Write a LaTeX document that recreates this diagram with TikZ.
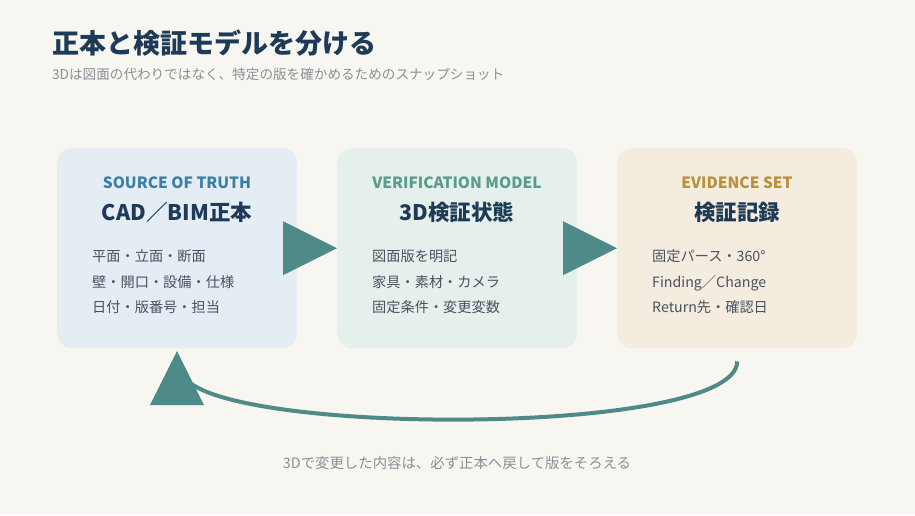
\documentclass[tikz,border=0pt]{standalone}
\usepackage{fontspec}
\setmainfont{Noto Sans CJK JP}
\usetikzlibrary{calc}
\definecolor{bg}{HTML}{F7F6F1}
\definecolor{navy}{HTML}{1D3A57}
\definecolor{subgray}{HTML}{8A8F97}
\definecolor{bodygray}{HTML}{4A5260}
\definecolor{lblue}{HTML}{3D7EA6}
\definecolor{lteal}{HTML}{5B9A8C}
\definecolor{lgold}{HTML}{B8913F}
\definecolor{fillA}{HTML}{E4EDF4}
\definecolor{fillB}{HTML}{E5F0EC}
\definecolor{fillC}{HTML}{F3ECDF}
\definecolor{arrowteal}{HTML}{4E8A87}
\tikzset{
  card/.style={rounded corners=15pt, minimum width=240pt, minimum height=200pt, inner sep=0pt, anchor=north west},
  cardlabel/.style={font=\fontsize{15.5}{18}\selectfont\bfseries, inner sep=0pt, anchor=center},
  cardtitle/.style={font=\fontsize{21.5}{26}\selectfont\bfseries, text=navy, inner sep=0pt, anchor=center},
  cardbody/.style={font=\fontsize{14.2}{25.5}\selectfont, text=bodygray, inner sep=0pt, anchor=north west, align=left},
  flowtri/.style={fill=arrowteal},
  backline/.style={draw=arrowteal, line width=4pt}
}
\begin{document}
\begin{tikzpicture}[x=1pt,y=-1pt]
\fill[bg] (0,0) rectangle (915,515);
\useasboundingbox (0,0) rectangle (915,515);
% title
\node[anchor=west, inner sep=0pt, text=navy, font=\fontsize{27}{32}\selectfont\bfseries] (title) at (52,43.5) {正本と検証モデルを分ける};
\node[anchor=west, inner sep=0pt, text=subgray, font=\fontsize{13.6}{16}\selectfont] (subtitle) at (52,74.5) {3Dは図面の代わりではなく、特定の版を確かめるためのスナップショット};
% cards
\node[card, fill=fillA] (b1) at (57,148) {};
\node[card, fill=fillB] (b2) at (337,148) {};
\node[card, fill=fillC] (b3) at (617,148) {};
% card 1
\node[cardlabel, text=lblue] (l1) at (177,183) {SOURCE OF TRUTH};
\node[cardtitle] (t1) at (177,212) {CAD／BIM正本};
\node[cardbody] (d1) at (92,249.5) {平面・立面・断面\\壁・開口・設備・仕様\\日付・版番号・担当};
% card 2
\node[cardlabel, text=lteal] (l2) at (457,183) {VERIFICATION MODEL};
\node[cardtitle] (t2) at (457,212) {3D検証状態};
\node[cardbody] (d2) at (372,249.5) {図面版を明記\\家具・素材・カメラ\\固定条件・変更変数};
% card 3
\node[cardlabel, text=lgold] (l3) at (737,183) {EVIDENCE SET};
\node[cardtitle] (t3) at (737,212) {検証記録};
\node[cardbody] (d3) at (652,249.5) {固定パース・360°\\Finding／Change\\Return先・確認日};
% flow triangles
\fill[flowtri] ($(b2.west)+(-54,-27)$) -- (b2.west) -- ($(b2.west)+(-54,27)$) -- cycle;
\fill[flowtri] ($(b3.west)+(-54,-27)$) -- (b3.west) -- ($(b3.west)+(-54,27)$) -- cycle;
% return arrow
\coordinate (rs) at ($(b3.south)+(0,13)$);
\coordinate (re) at (185,378);
\draw[backline] (rs) .. controls (737,436) and (230,436) .. (re);
\fill[flowtri] (177,351) -- (204,405) -- (150,405) -- cycle;
% footer
\node[anchor=center, inner sep=0pt, text=subgray, font=\fontsize{14.4}{17}\selectfont] (foot) at (457,463) {3Dで変更した内容は、必ず正本へ戻して版をそろえる};
\end{tikzpicture}
\end{document}
